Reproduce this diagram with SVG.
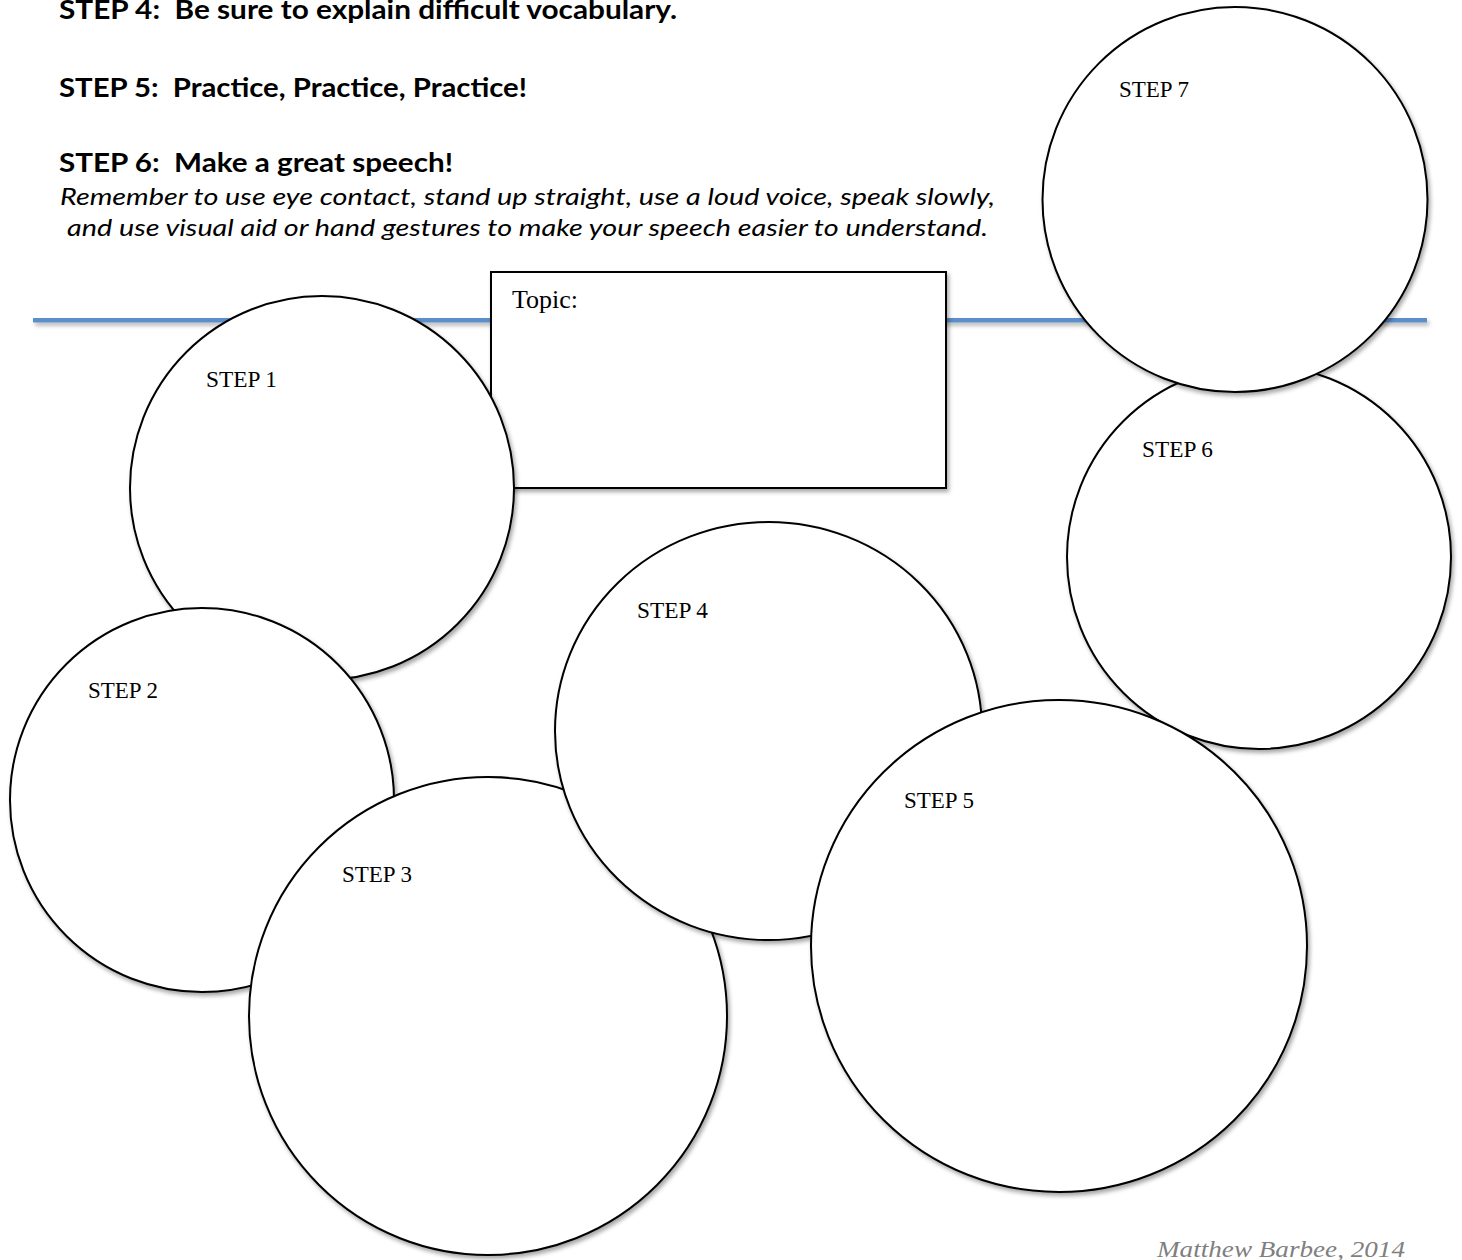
<svg xmlns="http://www.w3.org/2000/svg" width="1462" height="1260" viewBox="0 0 1462 1260">
<style>
.hd{font-family:Lato,"Liberation Sans",sans-serif;font-weight:bold;font-size:26px;fill:#000;white-space:pre}
.it{font-family:Lato,"Liberation Sans",sans-serif;font-style:italic;font-size:23.5px;fill:#000;white-space:pre}
.lbl{font-family:"Liberation Serif","DejaVu Serif",serif;font-size:24px;fill:#000}
.topic{font-family:"Liberation Serif","DejaVu Serif",serif;font-size:26px;fill:#000}
.credit{font-family:"Liberation Serif","DejaVu Serif",serif;font-style:italic;font-size:23px;fill:#7f7f7f}
.c{fill:#fff;stroke:#000;stroke-width:2;filter:url(#sh)}
</style>
<defs>
<filter id="sh" x="-10%" y="-10%" width="125%" height="125%">
<feDropShadow dx="2" dy="3" stdDeviation="2" flood-color="#000" flood-opacity="0.35"/>
</filter>
<filter id="lsh" filterUnits="userSpaceOnUse" x="20" y="300" width="1430" height="40">
<feDropShadow dx="2" dy="3" stdDeviation="2" flood-color="#000" flood-opacity="0.3"/>
</filter>
</defs>
<rect width="1462" height="1260" fill="#fff"/>
<g id="instructions">
<text class="hd" x="59" y="19" textLength="618" lengthAdjust="spacingAndGlyphs" xml:space="preserve">STEP 4:  Be sure to explain difficult vocabulary.</text>
<text class="hd" x="59" y="97" textLength="468" lengthAdjust="spacingAndGlyphs" xml:space="preserve">STEP 5:  Practice, Practice, Practice!</text>
<text class="hd" x="59" y="172" textLength="394" lengthAdjust="spacingAndGlyphs" xml:space="preserve">STEP 6:  Make a great speech!</text>
<text class="it" x="60" y="205" textLength="935" lengthAdjust="spacingAndGlyphs">Remember to use eye contact, stand up straight, use a loud voice, speak slowly,</text>
<text class="it" x="67" y="236" textLength="921" lengthAdjust="spacingAndGlyphs">and use visual aid or hand gestures to make your speech easier to understand.</text>
</g>
<g id="connectors">
<rect x="33" y="318" width="1394" height="4.5" fill="#5b8ec9" filter="url(#lsh)"/>
</g>
<g id="topic">
<rect x="491" y="272" width="455" height="216" fill="#fff" stroke="#000" stroke-width="2" filter="url(#sh)"/>
<text class="topic" x="512" y="308">Topic:</text>
</g>
<g id="step1">
<circle class="c" cx="322" cy="488" r="192"/>
<text class="lbl" x="206" y="387" textLength="71" lengthAdjust="spacingAndGlyphs">STEP 1</text>
</g>
<g id="step2">
<circle class="c" cx="202" cy="800" r="192"/>
<text class="lbl" x="88" y="698" textLength="70" lengthAdjust="spacingAndGlyphs">STEP 2</text>
</g>
<g id="step3">
<circle class="c" cx="488" cy="1016" r="239"/>
<text class="lbl" x="342" y="882" textLength="70" lengthAdjust="spacingAndGlyphs">STEP 3</text>
</g>
<g id="step4">
<ellipse class="c" cx="768.5" cy="731" rx="213.5" ry="209"/>
<text class="lbl" x="637" y="618" textLength="71" lengthAdjust="spacingAndGlyphs">STEP 4</text>
</g>
<g id="step6">
<circle class="c" cx="1259" cy="557" r="192"/>
<text class="lbl" x="1142" y="457" textLength="71" lengthAdjust="spacingAndGlyphs">STEP 6</text>
</g>
<g id="step7">
<circle class="c" cx="1235" cy="199.5" r="192.5"/>
<text class="lbl" x="1119" y="97" textLength="70" lengthAdjust="spacingAndGlyphs">STEP 7</text>
</g>
<g id="step5">
<ellipse class="c" cx="1059" cy="946" rx="248" ry="246"/>
<text class="lbl" x="904" y="808" textLength="70" lengthAdjust="spacingAndGlyphs">STEP 5</text>
</g>
<text class="credit" x="1157" y="1257" textLength="248" lengthAdjust="spacingAndGlyphs">Matthew Barbee, 2014</text>
</svg>
